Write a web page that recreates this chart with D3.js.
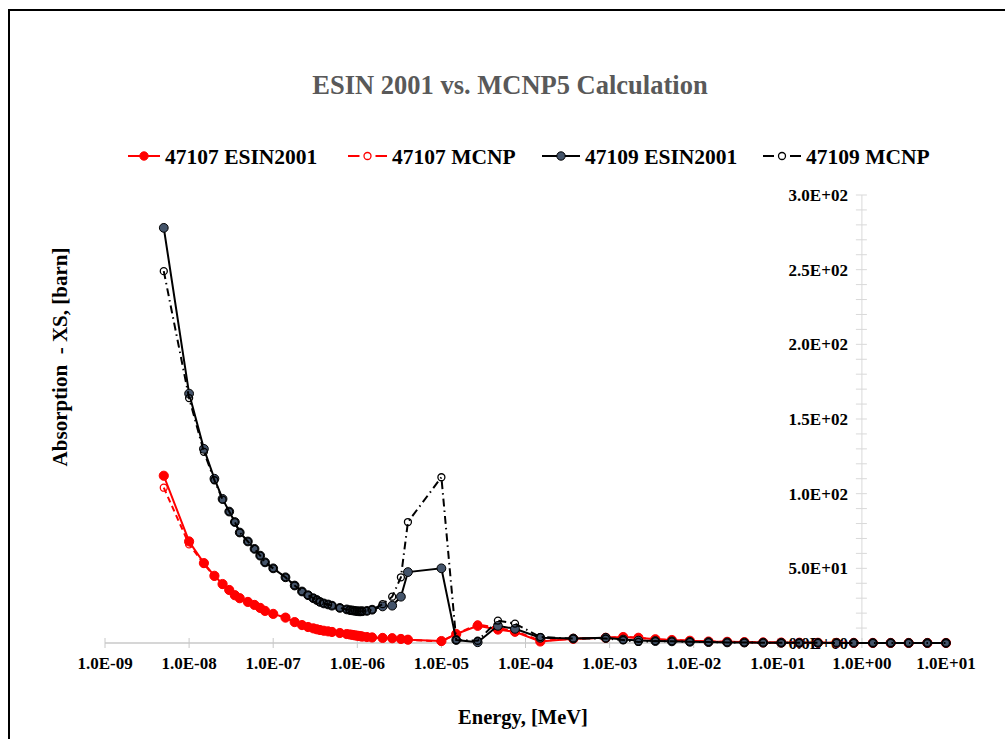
<!DOCTYPE html>
<html>
<head>
<meta charset="utf-8">
<script src="https://cdn.jsdelivr.net/npm/d3@7"></script>
<style>
  html, body { margin: 0; padding: 0; background: #fff; }
  svg { display: block; }
  text { font-family: "Liberation Serif", "Times New Roman", serif; font-weight: bold; }
</style>
</head>
<body>
<svg id="chart" width="1005" height="739"></svg>
<script>
// Energy grid shared by all four series, MeV
const energy = [
  5e-9, 1e-8, 1.5e-8, 2e-8, 2.5e-8, 3e-8, 3.5e-8, 4e-8, 5e-8, 6e-8, 7e-8, 8e-8,
  1e-7, 1.4e-7, 1.8e-7, 2.2e-7, 2.6e-7, 3e-7, 3.3e-7, 3.6e-7, 4e-7, 4.5e-7, 5e-7,
  6.2e-7, 7.5e-7, 8.2e-7, 8.8e-7, 9.4e-7, 1e-6, 1.05e-6, 1.1e-6, 1.15e-6, 1.3e-6,
  1.5e-6, 2e-6, 2.6e-6, 3.3e-6, 4e-6, 1e-5, 1.5e-5, 2.7e-5, 4.7e-5, 7.5e-5,
  1.5e-4, 3.7e-4, 9e-4, 1.45e-3, 2.2e-3, 3.5e-3, 5.5e-3, 9e-3, 1.5e-2, 2.5e-2,
  4e-2, 6.7e-2, 0.11, 0.18, 0.3, 0.5, 0.8, 1.35, 2.2, 3.6, 6, 10
];

// Absorption cross sections, barn
const ag107Esin = [
  112, 68, 53.5, 45, 39.5, 35.5, 32, 30, 27.5, 25.5, 23.5, 21.5,
  19.5, 17, 14, 12, 10.7, 9.8, 9.2, 8.7, 8.2, 7.8, 7.4,
  6.7, 6, 5.7, 5.4, 5.1, 4.9, 4.7, 4.5, 4.3, 4,
  3.7, 3.4, 3.2, 2.7, 2.2, 1.3, 6, 11.5, 9, 7.5,
  1, 2.8, 3.5, 4, 3.5, 2.5, 2, 1.5, 1, 0.8,
  0.6, 0.4, 0.3, 0.2, 0.15, 0.1, 0.08, 0.05, 0.04, 0.03, 0.02, 0.02
];
const ag107Mcnp = [
  104, 66, 53, 44.5, 39, 35.5, 32, 30, 27.5, 25.5, 23.5, 21.5,
  19.5, 17, 14, 12, 10.7, 9.8, 9.2, 8.7, 8.2, 7.8, 7.4,
  6.7, 6, 5.7, 5.4, 5.1, 4.9, 4.7, 4.5, 4.3, 4,
  3.7, 3.4, 3.2, 2.7, 2.2, 1, 6, 12.5, 10, 8,
  1.5, 2.8, 3.5, 4, 3.5, 2.5, 2, 1.5, 1, 0.8,
  0.6, 0.4, 0.3, 0.2, 0.15, 0.1, 0.08, 0.05, 0.04, 0.03, 0.02, 0.02
];
const ag109Esin = [
  278, 167, 130, 110, 96.5, 88, 81, 74, 68, 63, 58.5, 54,
  50, 44, 38.5, 34.5, 32, 30, 28.8, 27.5, 26.5, 25.8, 25,
  23.5, 22.5, 22, 21.8, 21.5, 21.3, 21.2, 21.2, 21.3, 21.5,
  22.3, 24.5, 25, 31, 47.5, 50, 2, 0.5, 11.5, 9.5,
  3.5, 3, 3.5, 2.3, 1.6, 1.3, 1.1, 0.8, 0.6, 0.4,
  0.3, 0.2, 0.15, 0.1, 0.1, 0.05, 0.05, 0.03, 0.02, 0.02, 0.01, 0.01
];
const ag109Mcnp = [
  249, 164, 128, 109, 96, 88, 81, 74, 68, 63, 58.5, 54,
  50, 44, 38.5, 34.5, 32, 30, 28.8, 27.5, 26.5, 25.8, 25,
  23.5, 22.5, 22, 21.8, 21.5, 21.3, 21.2, 21.2, 21.3, 21.5,
  22.3, 26, 31, 44, 81, 111, 2, 1.5, 15, 13,
  4, 3, 3, 2, 0.7, 1.3, 1.1, 0.8, 0.6, 0.4,
  0.3, 0.2, 0.15, 0.1, 0.1, 0.05, 0.05, 0.03, 0.02, 0.02, 0.01, 0.01
];

const seriesNames = ["47107 ESIN2001", "47107 MCNP", "47109 ESIN2001", "47109 MCNP"];
const yTicks = [0, 50, 100, 150, 200, 250, 300];
const xDecades = [1e-9, 1e-8, 1e-7, 1e-6, 1e-5, 1e-4, 1e-3, 1e-2, 1e-1, 1, 10];

const series = [
  { name: seriesNames[0], values: ag107Esin, color: "#ff0000", dash: null, fill: "#ff0000", r: 4.6, markStroke: "#ff0000" },
  { name: seriesNames[1], values: ag107Mcnp, color: "#ff0000", dash: "6,4", fill: "none", r: 3.5, markStroke: "#ff0000" },
  { name: seriesNames[2], values: ag109Esin, color: "#000000", dash: null, fill: "#44546a", r: 4.4, markStroke: "#000000" },
  { name: seriesNames[3], values: ag109Mcnp, color: "#000000", dash: "8,4,1.5,4", fill: "none", r: 3.5, markStroke: "#000000" }
];

const svg = d3.select("#chart");

// outer frame
svg.append("rect").attr("x", 9).attr("y", 10).attr("width", 1010).attr("height", 760)
  .attr("fill", "none").attr("stroke", "#000").attr("stroke-width", 2);

const x = d3.scaleLog().domain([1e-9, 10]).range([105, 946]);
const y = d3.scaleLinear().domain([0, 300]).range([643, 195]);

function sci(v) {
  const [m, e] = v.toExponential(1).split("e");
  const n = +e;
  return m + "E" + (n < 0 ? "-" : "+") + String(Math.abs(n)).padStart(2, "0");
}

// title
svg.append("text").attr("x", 510).attr("y", 94).attr("text-anchor", "middle")
  .attr("font-size", 26.5).attr("fill", "#595959").text("ESIN 2001 vs. MCNP5 Calculation");

// x axis (log), crossing y at 0
const xAxisG = svg.append("g");
xAxisG.append("line").attr("x1", x(1e-9)).attr("x2", x(10)).attr("y1", y(0)).attr("y2", y(0))
  .attr("stroke", "#c8c8c8").attr("stroke-width", 1.5);
xAxisG.selectAll("line.tick").data(x.ticks()).join("line").attr("class", "tick")
  .attr("x1", d => x(d)).attr("x2", d => x(d))
  .attr("y1", y(0) - 5).attr("y2", y(0) + 5)
  .attr("stroke", "#c8c8c8").attr("stroke-width", 1);
xAxisG.selectAll("text").data(xDecades).join("text")
  .attr("x", d => x(d)).attr("y", 669).attr("text-anchor", "middle")
  .attr("font-size", 17).attr("fill", "#000").text(sci);

// y axis, crossing x at 1 MeV
const yAxisG = svg.append("g");
const yMinor = d3.range(0, 301, 10);
yAxisG.append("line").attr("x1", x(1)).attr("x2", x(1)).attr("y1", y(300)).attr("y2", y(0))
  .attr("stroke", "#d9d9d9").attr("stroke-width", 1);
yAxisG.selectAll("line.tick").data(yMinor).join("line").attr("class", "tick")
  .attr("x1", x(1) - 6).attr("x2", x(1) + 5)
  .attr("y1", d => y(d)).attr("y2", d => y(d))
  .attr("stroke", "#d9d9d9").attr("stroke-width", 1);
yAxisG.selectAll("text").data(yTicks).join("text")
  .attr("x", x(1) - 14).attr("y", d => y(d)).attr("dy", "0.35em").attr("text-anchor", "end")
  .attr("font-size", 17).attr("fill", "#000").text(sci);

// axis titles
svg.append("text").attr("x", 523).attr("y", 724).attr("text-anchor", "middle")
  .attr("font-size", 20.5).attr("fill", "#000").text("Energy, [MeV]");
svg.append("text").attr("transform", "translate(67,357) rotate(-90)").attr("text-anchor", "middle")
  .attr("font-size", 21).attr("fill", "#000").style("white-space", "pre")
  .text("Absorption  - XS, [barn]");

// series lines and markers
const line = d3.line().x(d => x(d[0])).y(d => y(d[1]));
series.forEach(s => {
  const pts = energy.map((e, i) => [e, s.values[i]]);
  const g = svg.append("g");
  g.append("path").datum(pts).attr("d", line).attr("fill", "none")
    .attr("stroke", s.color).attr("stroke-width", 2)
    .attr("stroke-dasharray", s.dash);
  g.selectAll("circle").data(pts).join("circle")
    .attr("cx", d => x(d[0])).attr("cy", d => y(d[1])).attr("r", s.r)
    .attr("fill", s.fill).attr("stroke", s.markStroke).attr("stroke-width", s.fill === "none" ? 1.3 : 1);
});

// legend
const legendX = [128, 348, 542, 763];
const legendTextX = [165, 392, 585, 806];
const legendY = 156;
series.forEach((s, i) => {
  const g = svg.append("g");
  const x0 = legendX[i], x1 = legendTextX[i] - 5;
  if (s.dash) {
    const mid = (x0 + x1) / 2;
    g.append("line").attr("x1", x0).attr("x2", mid - 8).attr("y1", legendY).attr("y2", legendY)
      .attr("stroke", s.color).attr("stroke-width", 2);
    g.append("line").attr("x1", mid + 8).attr("x2", x1).attr("y1", legendY).attr("y2", legendY)
      .attr("stroke", s.color).attr("stroke-width", 2);
    g.append("circle").attr("cx", mid).attr("cy", legendY).attr("r", 3.5)
      .attr("fill", "#fff").attr("stroke", s.color).attr("stroke-width", 1.3);
  } else {
    g.append("line").attr("x1", x0).attr("x2", x1).attr("y1", legendY).attr("y2", legendY)
      .attr("stroke", s.color).attr("stroke-width", 2);
    g.append("circle").attr("cx", (x0 + x1) / 2).attr("cy", legendY).attr("r", 4.2)
      .attr("fill", s.fill).attr("stroke", s.markStroke).attr("stroke-width", 1);
  }
  g.append("text").attr("x", legendTextX[i]).attr("y", legendY).attr("dy", "0.35em")
    .attr("font-size", 21.5).attr("fill", "#000").text(s.name);
});
</script>
</body>
</html>
